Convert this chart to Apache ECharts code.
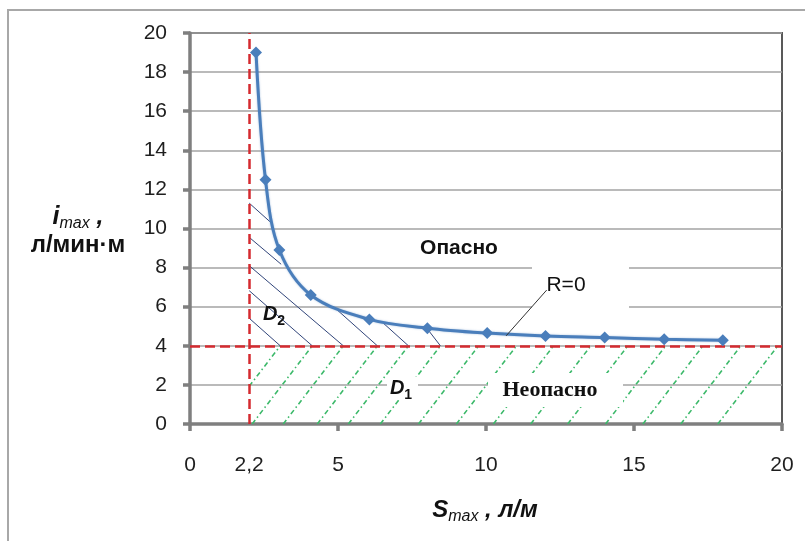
<!DOCTYPE html>
<html>
<head>
<meta charset="utf-8">
<script src="https://cdn.jsdelivr.net/npm/echarts@6/dist/echarts.min.js"></script>
<style>html,body{margin:0;padding:0;background:#fff}#c{width:805px;height:541px}</style>
</head>
<body>
<div id="c"></div>
<script>
// ---- data ----
const sValues = [2.23, 2.55, 3.02, 4.08, 6.06, 8.02, 10.04, 12.01, 14.01, 16.02, 18.0];
const iValues = [19.0, 12.5, 8.9, 6.6, 5.35, 4.9, 4.65, 4.5, 4.42, 4.33, 4.29];
const xTickValues = [0, 5, 10, 15, 20];
const xLabelValues = [0, 2, 5, 10, 15, 20];
const xLabelTexts = ['0', '2,2', '5', '10', '15', '20'];
const criticalS = 2.0;   // drawn position of the "2,2" line
const criticalI = 4;
const criticalLines = [
  [[criticalS, 0], [criticalS, 20]],
  [[0, criticalI], [20, criticalI]]
];
// D2 hatch (dark, slanting down-right), visible pieces
const d2Hatch = [
  [[2.0, 5.41], [3.05, 4]],
  [[2.0, 6.82], [4.13, 4]],
  [[2.0, 8.1], [5.18, 4]],
  [[2.0, 9.55], [3.08, 8.17]],
  [[4.85, 6.0], [6.33, 4]],
  [[2.0, 11.3], [2.7, 10.35]],
  [[6.53, 5.16], [7.38, 4]],
  [[8.0, 4.9], [8.46, 4]]
];
// D1 hatch (green dash-dot, slanting up-right)
const d1Hatch = [
  [[2.0, 1.93], [3.05, 4]],
  [[2.10, 0], [4.13, 4]],
  [[3.15, 0], [5.18, 4]],
  [[4.30, 0], [6.33, 4]],
  [[5.35, 0], [7.38, 4]],
  [[6.43, 0], [8.46, 4]],
  [[7.72, 0], [9.75, 4]],
  [[9.00, 0], [11.03, 4]],
  [[10.25, 0], [12.28, 4]],
  [[11.51, 0], [13.54, 4]],
  [[12.76, 0], [14.79, 4]],
  [[14.04, 0], [16.07, 4]],
  [[15.30, 0], [17.33, 4]],
  [[16.58, 0], [18.61, 4]],
  [[17.83, 0], [19.86, 4]]
];
const leaderLine = [[[12.05, 6.85], [10.68, 4.51]]];

const SANS = '"Liberation Sans", Arial, sans-serif';
const SERIF = '"Liberation Serif", "Times New Roman", serif';

const chart = echarts.init(document.getElementById('c'), null, {renderer: 'canvas'});
const option = {
  backgroundColor: '#fff',
  animation: false,
  grid: {left: 190, right: 23, top: 33, bottom: 117, show: true,
         borderColor: '#595959', borderWidth: 2, backgroundColor: 'transparent'},
  xAxis: {
    type: 'value', min: 0, max: 20, interval: 5,
    axisLine: {onZero: false, lineStyle: {color: '#7f7f7f', width: 3.5}},
    axisTick: {show: true, length: 7, customValues: xTickValues,
               lineStyle: {color: '#7f7f7f', width: 3.5}},
    axisLabel: {customValues: xLabelValues, margin: 31, fontSize: 21, color: '#1e1e1e',
                fontFamily: SANS,
                formatter: v => { const k = xLabelValues.indexOf(v); return k >= 0 ? xLabelTexts[k] : ''; }},
    splitLine: {show: false}
  },
  yAxis: {
    type: 'value', min: 0, max: 20, interval: 2,
    axisLine: {show: true, lineStyle: {color: '#7f7f7f', width: 3.5}},
    axisTick: {show: true, length: 7, lineStyle: {color: '#7f7f7f', width: 3.5}},
    axisLabel: {margin: 23, fontSize: 21, color: '#1e1e1e', fontFamily: SANS},
    splitLine: {show: true, lineStyle: {color: '#a3a3a3', width: 1.5}}
  },
  series: [
    {type: 'lines', coordinateSystem: 'cartesian2d', silent: true, z: 2,
     data: d1Hatch.map(c => ({coords: c})),
     lineStyle: {color: '#3cb96a', width: 1.6, type: [5, 3, 1.5, 3], opacity: 1}},
    {type: 'lines', coordinateSystem: 'cartesian2d', silent: true, z: 2,
     data: d2Hatch.map(c => ({coords: c})),
     lineStyle: {color: '#31457a', width: 1, opacity: 1}},
    {type: 'lines', coordinateSystem: 'cartesian2d', silent: true, z: 3,
     data: criticalLines.map(c => ({coords: c})),
     lineStyle: {color: '#d42a2f', width: 2.5, type: [10, 5], opacity: 1}},
    {type: 'lines', coordinateSystem: 'cartesian2d', silent: true, z: 55,
     data: leaderLine.map(c => ({coords: c})),
     lineStyle: {color: '#333', width: 1, opacity: 1}},
    {type: 'line', name: 'R=0', z: 5,
     data: sValues.map((s, k) => [s, iValues[k]]),
     smooth: 0.35, symbol: 'diamond', symbolSize: 12, showSymbol: true,
     lineStyle: {color: '#4a7ebb', width: 3, shadowBlur: 2, shadowColor: 'rgba(74,126,187,0.5)'},
     itemStyle: {color: '#4a7ebb'}}
  ],
  graphic: [
    {type: 'rect', z: 0, silent: true, shape: {x: 8, y: 10, width: 900, height: 700},
     style: {fill: 'none', stroke: '#a8a8a8', lineWidth: 2}},
    // white label boxes
    {type: 'rect', z: 50, silent: true, shape: {x: 532, y: 262, width: 97, height: 52}, style: {fill: '#fff'}},
    {type: 'rect', z: 50, silent: true, shape: {x: 488, y: 373, width: 135, height: 34}, style: {fill: '#fff'}},
    {type: 'rect', z: 50, silent: true, shape: {x: 387, y: 377, width: 31, height: 23}, style: {fill: '#fff'}},
    {type: 'text', z: 60, silent: true, style: {x: 459, y: 248, text: 'Опасно', align: 'center', verticalAlign: 'middle',
      font: 'bold 21px ' + SANS, fill: '#111'}},
    {type: 'text', z: 60, silent: true, style: {x: 566, y: 285, text: 'R=0', align: 'center', verticalAlign: 'middle',
      font: '500 21px ' + SANS, fill: '#111'}},
    {type: 'text', z: 60, silent: true, style: {x: 550, y: 390, text: 'Неопасно', align: 'center', verticalAlign: 'middle',
      font: 'bold 22px ' + SERIF, fill: '#111'}},
    {type: 'text', z: 60, silent: true, style: {x: 274, y: 314, text: '{d|D}{s|2}', align: 'center', verticalAlign: 'middle',
      rich: {d: {fontSize: 20, fontWeight: 'bold', fontStyle: 'italic', fontFamily: SANS, fill: '#111', verticalAlign: 'bottom'},
             s: {fontSize: 14, fontWeight: 'bold', fontFamily: SANS, fill: '#111', verticalAlign: 'bottom', padding: [0, 0, -4, 0]}}}},
    {type: 'text', z: 60, silent: true, style: {x: 401, y: 388, text: '{d|D}{s|1}', align: 'center', verticalAlign: 'middle',
      rich: {d: {fontSize: 20, fontWeight: 'bold', fontStyle: 'italic', fontFamily: SANS, fill: '#111', verticalAlign: 'bottom'},
             s: {fontSize: 14, fontWeight: 'bold', fontFamily: SANS, fill: '#111', verticalAlign: 'bottom', padding: [0, 0, -4, 0]}}}},
    // axis names
    {type: 'text', z: 60, silent: true, style: {x: 78, y: 230, text: '{a|i}{s|max}{a| ,}\n{b|л/мин·м}', align: 'center', verticalAlign: 'middle',
      rich: {a: {fontSize: 25, fontWeight: 'bold', fontStyle: 'italic', fontFamily: SANS, fill: '#111', lineHeight: 31, verticalAlign: 'bottom'},
             s: {fontSize: 16, fontStyle: 'italic', fontFamily: SANS, fill: '#111', lineHeight: 31, verticalAlign: 'bottom', padding: [0, 0, -2, 0]},
             b: {fontSize: 24, fontWeight: 'bold', fontFamily: SANS, fill: '#111', lineHeight: 31}}}},
    {type: 'text', z: 60, silent: true, style: {x: 485, y: 510, text: '{a|S}{s|max}{a| , л/м}', align: 'center', verticalAlign: 'middle',
      rich: {a: {fontSize: 24, fontWeight: 'bold', fontStyle: 'italic', fontFamily: SANS, fill: '#111', verticalAlign: 'bottom'},
             s: {fontSize: 16, fontStyle: 'italic', fontFamily: SANS, fill: '#111', verticalAlign: 'bottom', padding: [0, 0, -3, 0]}}}}
  ]
};
chart.setOption(option);
</script>
</body>
</html>
